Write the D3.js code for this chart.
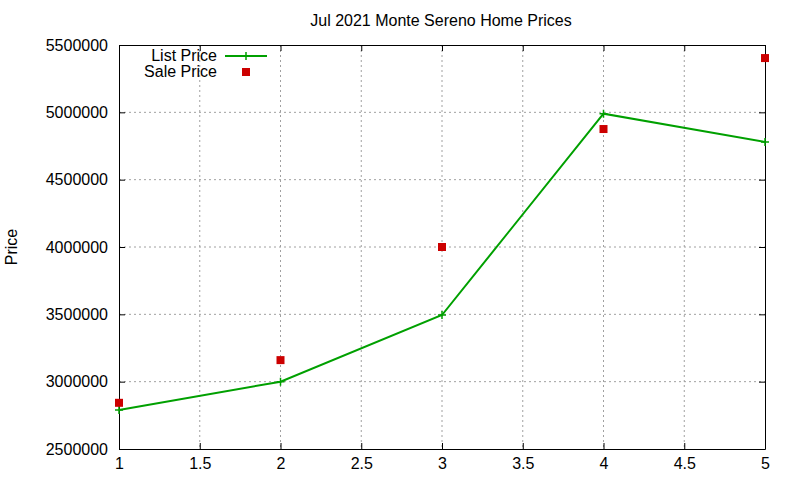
<!DOCTYPE html>
<html>
<head>
<meta charset="utf-8">
<script src="https://cdn.jsdelivr.net/npm/d3@7"></script>
<style>
body { margin: 0; background: #fff; }
text { font-family: "Liberation Sans", Arial, sans-serif; }
</style>
</head>
<body>
<div id="chart-area"></div>
<script>

const xValues = [1, 2, 3, 4, 5];
const listPrice = [2789000, 3000000, 3495000, 4990000, 4780000];
const salePrice = [2843000, 3160000, 4000000, 4876000, 5403000];
const xTicks = [1, 1.5, 2, 2.5, 3, 3.5, 4, 4.5, 5];
const yTicks = [2500000, 3000000, 3500000, 4000000, 4500000, 5000000, 5500000];

const width = 800, height = 480;
const margin = {top: 45, right: 35, bottom: 31, left: 119};

var svg = d3.select("#chart-area").append("svg")
	.attr("width", width)
	.attr("height", height);

var x = d3.scaleLinear()
	.domain([1, 5])
	.range([margin.left, width - margin.right]);

var y = d3.scaleLinear()
	.domain([2500000, 5500000])
	.range([height - margin.bottom, margin.top]);

// 网格
svg.append("g").selectAll("line")
	.data(xTicks.slice(1, -1))
	.enter().append("line")
	.attr("x1", d => x(d)).attr("x2", d => x(d))
	.attr("y1", y(5500000)).attr("y2", y(2500000))
	.attr("stroke", "#a0a0a0")
	.attr("stroke-dasharray", "2,3");
svg.append("g").selectAll("line")
	.data(yTicks.slice(1, -1))
	.enter().append("line")
	.attr("x1", x(1)).attr("x2", x(5))
	.attr("y1", d => y(d)).attr("y2", d => y(d))
	.attr("stroke", "#a0a0a0")
	.attr("stroke-dasharray", "2,3");

// 坐标轴 (刻度朝内)
var xAxis = svg.append("g")
	.attr("transform", `translate(0,${y(2500000)})`)
	.call(d3.axisBottom(x).tickValues(xTicks).tickFormat(d3.format("")).tickSizeInner(-6).tickSizeOuter(0).tickPadding(9));
var xAxisTop = svg.append("g")
	.attr("transform", `translate(0,${y(5500000)})`)
	.call(d3.axisTop(x).tickValues(xTicks).tickFormat("").tickSizeInner(-6).tickSizeOuter(0));
var yAxis = svg.append("g")
	.attr("transform", `translate(${x(1)},0)`)
	.call(d3.axisLeft(y).tickValues(yTicks).tickFormat(d3.format("d")).tickSizeInner(-6).tickSizeOuter(0).tickPadding(11));
var yAxisRight = svg.append("g")
	.attr("transform", `translate(${x(5)},0)`)
	.call(d3.axisRight(y).tickValues(yTicks).tickFormat("").tickSizeInner(-6).tickSizeOuter(0));

[xAxis, xAxisTop, yAxis, yAxisRight].forEach(g => {
	g.select(".domain").attr("stroke", "#000").attr("stroke-width", 1);
	g.selectAll(".tick line").attr("stroke", "#000");
	g.selectAll("text")
		.style("font-family", "'Liberation Sans', Arial, sans-serif")
		.style("font-size", "16px")
		.attr("fill", "#000");
});

// 折线
var line = d3.line()
	.x((d, i) => x(xValues[i]))
	.y(d => y(d));

svg.append("path")
	.datum(listPrice)
	.attr("fill", "none")
	.attr("stroke", "#00a000")
	.attr("stroke-width", 2)
	.attr("d", line);

// 十字点
svg.selectAll(".plus")
	.data(listPrice)
	.enter().append("path")
	.attr("class", "plus")
	.attr("d", (d, i) => `M${x(xValues[i]) - 4},${y(d)}h8M${x(xValues[i])},${y(d) - 4}v8`)
	.attr("stroke", "#00a000")
	.attr("stroke-width", 1.5);

// 方块点
svg.selectAll(".sq")
	.data(salePrice)
	.enter().append("rect")
	.attr("class", "sq")
	.attr("x", (d, i) => x(xValues[i]) - 4)
	.attr("y", d => y(d) - 4)
	.attr("width", 8)
	.attr("height", 8)
	.attr("fill", "#cc0000");

// 标题
svg.append("text")
	.attr("x", 441)
	.attr("y", 26)
	.attr("text-anchor", "middle")
	.style("font-size", "16px")
	.text("Jul 2021 Monte Sereno Home Prices");

svg.append("text")
	.attr("transform", "translate(17,247) rotate(-90)")
	.attr("text-anchor", "middle")
	.style("font-size", "16px")
	.text("Price");

// 图例
svg.append("text")
	.attr("x", 217).attr("y", 61)
	.attr("text-anchor", "end")
	.style("font-size", "16px")
	.text("List Price");
svg.append("line")
	.attr("x1", 225).attr("x2", 267)
	.attr("y1", 56).attr("y2", 56)
	.attr("stroke", "#00a000")
	.attr("stroke-width", 2);
svg.append("path")
	.attr("d", "M242,56h8M246,52v8")
	.attr("stroke", "#00a000")
	.attr("stroke-width", 1.5);
svg.append("text")
	.attr("x", 217).attr("y", 77)
	.attr("text-anchor", "end")
	.style("font-size", "16px")
	.text("Sale Price");
svg.append("rect")
	.attr("x", 242).attr("y", 68)
	.attr("width", 8).attr("height", 8)
	.attr("fill", "#cc0000");

</script>
</body>
</html>
